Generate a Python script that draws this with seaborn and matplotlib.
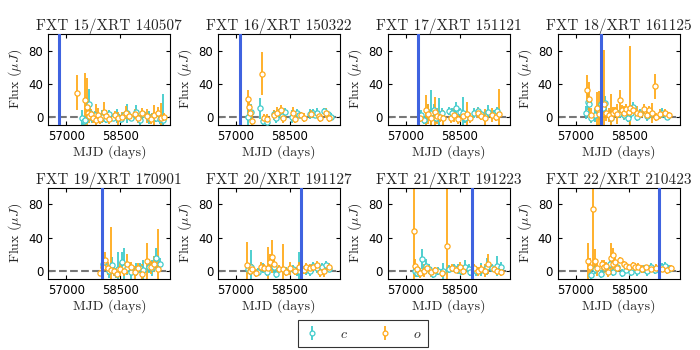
import matplotlib
matplotlib.use('Agg')
import matplotlib.pyplot as plt
import numpy as np
import seaborn as sns

# panel titles and XRT trigger dates (MJD)
titles = ['FXT 15/XRT 140507', 'FXT 16/XRT 150322', 'FXT 17/XRT 151121', 'FXT 18/XRT 161125',
          'FXT 19/XRT 170901', 'FXT 20/XRT 191127', 'FXT 21/XRT 191223', 'FXT 22/XRT 210423']
xrt_mjd = [56784, 57103, 57347, 57717, 57997, 58814, 58840, 59327]

# ATLAS light curves: rows of (MJD, flux uJy, error)
fxt15_c = [(57440, -2, 10), (57480, -5, 6), (57530, -4, 5), (57620, 15, 18), (57660, 5, 8),
           (57720, -1, 6), (57800, 2, 5), (57900, -2, 4), (58000, 0, 8), (58100, -3, 4),
           (58200, 3, 5), (58300, -1, 4), (58420, 1, 8), (58520, -3, 5), (58600, 2, 4),
           (58700, 4, 11), (58800, -1, 4), (58950, 6, 8), (59050, -4, 6), (59150, 3, 4),
           (59300, -1, 8), (59400, 0, 5), (59500, -2, 4), (59600, -3, 6), (59700, -4, 32)]
fxt15_o = [(57290, 29, 21), (57520, 20, 33), (57580, 12, 35), (57600, 5, 10), (57640, 1, 8),
           (57700, 3, 6), (57750, -2, 5), (57820, -4, 20), (57880, 2, 8), (57950, -3, 6),
           (58050, 6, 12), (58120, 1, 7), (58200, -3, 6), (58350, 2, 5), (58450, -2, 8),
           (58550, 0, 6), (58650, 5, 8), (58750, 1, 5), (58900, 3, 6), (59000, -2, 5),
           (59100, 4, 7), (59250, 1, 8), (59350, -3, 6), (59450, 2, 12), (59550, 5, 7),
           (59650, -1, 18), (59720, 0, 5)]

fxt16_c = [(57340, 0, 12), (57420, 6, 10), (57680, 10, 13), (57760, -5, 5), (57850, -6, 6),
           (58050, 3, 5), (58120, -1, 6), (58200, 4, 5), (58280, 1, 4), (58350, 6, 5),
           (58550, 0, 8), (58700, 4, 5), (58750, 2, 4), (59050, 3, 6), (59150, 4, 5),
           (59200, 2, 4), (59250, 5, 5), (59450, 7, 4), (59550, 3, 4), (59650, 0, 5)]
fxt16_o = [(57320, 21, 11), (57350, 12, 10), (57400, 5, 8), (57450, -5, 10), (57720, 52, 26),
           (57780, -2, 5), (57850, -3, 6), (58050, 2, 6), (58150, 5, 7), (58250, 8, 6),
           (58300, -2, 5), (58600, 4, 8), (58650, -3, 5), (58800, 2, 4), (58900, -1, 5),
           (59100, 3, 5), (59300, 1, 6), (59350, -2, 4), (59500, 4, 6), (59600, -1, 5)]

fxt17_c = [(57420, 2, 6), (57500, -4, 5), (57620, 6, 10), (57700, 4, 28), (57780, 8, 8),
           (57850, -2, 5), (57920, 3, 20), (58000, 5, 6), (58200, 7, 5), (58300, 5, 6),
           (58400, 10, 8), (58500, 6, 5), (58600, 4, 20), (58650, -1, 6), (58900, 5, 6),
           (59000, 7, 5), (59100, 3, 4), (59300, 6, 8), (59450, 3, 5), (59550, 7, 5)]
fxt17_o = [(57400, -1, 5), (57560, 8, 18), (57620, 3, 12), (57700, -2, 8), (57800, 6, 18),
           (57880, 1, 10), (57950, 0, 6), (58050, -2, 10), (58250, -1, 6), (58350, 2, 8),
           (58450, -3, 6), (58600, 1, 5), (58700, 3, 15), (58800, -2, 6), (59000, 4, 6),
           (59100, 1, 5), (59200, -1, 10), (59400, 2, 8), (59500, 0, 5), (59600, 3, 30)]

fxt18_c = [(57300, 5, 8), (57340, 18, 10), (57380, 15, 8), (57420, -2, 6), (57550, 2, 8),
           (57640, 6, 10), (57700, 15, 8), (57760, 10, 6), (57830, 17, 8), (57950, 2, 6),
           (58000, -2, 5), (58200, 3, 5), (58350, 2, 6), (58450, -1, 5), (58550, 5, 6),
           (58600, 12, 6), (58700, 0, 5), (58800, 4, 5), (59000, 1, 6), (59100, 4, 5),
           (59400, 5, 6), (59500, 3, 5), (59550, 0, 4)]
fxt18_o = [(57320, 32, 18), (57380, 22, 20), (57440, 2, 8), (57600, 10, 20), (57650, 3, 28),
           (57790, 16, 65), (57860, 5, 10), (57920, 2, 8), (57990, -2, 30), (58050, 5, 7),
           (58100, 7, 5), (58150, 3, 12), (58250, 20, 12), (58300, 8, 6), (58350, 5, 8),
           (58400, 9, 7), (58480, 6, 5), (58530, 10, 75), (58600, 8, 6), (58700, 5, 8),
           (58800, 3, 5), (58900, 9, 6), (59000, 2, 5), (59050, 8, 5), (59120, 5, 12),
           (59200, 37, 15), (59250, 0, 5), (59350, 3, 6), (59500, 4, 5), (59600, 2, 4)]

fxt19_c = [(58010, 8, 8), (58050, 10, 6), (58200, -1, 8), (58280, 7, 10), (58380, -3, 6),
           (58450, 2, 20), (58550, 10, 12), (58600, 5, 22), (58700, 3, 8), (58800, -2, 10),
           (58950, 1, 8), (59050, 3, 6), (59150, 1, 12), (59300, 5, 8), (59400, 3, 10),
           (59500, 15, 12), (59600, 8, 7)]
fxt19_o = [(57950, -3, 4), (58030, 5, 10), (58080, 13, 10), (58150, 3, 8), (58250, 1, 52),
           (58320, -1, 6), (58400, -4, 4), (58500, 2, 8), (58600, 0, 6), (58700, 8, 12),
           (58800, 4, 6), (58900, -2, 8), (59000, 3, 6), (59100, -4, 12), (59250, 12, 22),
           (59350, 4, 8), (59450, 8, 10), (59550, 2, 48)]

fxt20_c = [(57330, 2, 6), (57380, 0, 5), (57430, 5, 20), (57600, -2, 5), (57750, 3, 6),
           (57850, -2, 5), (58050, 5, 8), (58100, -4, 5), (58400, 0, 5), (58600, 2, 5),
           (58700, -1, 6), (58750, 0, 22), (58850, 2, 5), (58950, 1, 6), (59050, -1, 5),
           (59150, 6, 5), (59250, 3, 6), (59400, 4, 5), (59500, 7, 5), (59600, 2, 4)]
fxt20_o = [(57300, 7, 28), (57380, 0, 5), (57450, 2, 6), (57550, -3, 5), (57700, 4, 6),
           (57780, 3, 5), (57880, 3, 25), (57950, 10, 10), (58000, 17, 20), (58050, 8, 8),
           (58200, 2, 5), (58300, 2, 30), (58400, -2, 5), (58500, 3, 8), (58650, 0, 5),
           (58750, 4, 6), (58900, 1, 5), (58950, 5, 4), (59050, 3, 5), (59150, 4, 4),
           (59250, 7, 5), (59350, -2, 6), (59450, -1, 7), (59600, 4, 5)]

fxt21_c = [(57260, 0, 8), (57320, -3, 5), (57380, -2, 6), (57450, 14, 12), (57550, 6, 8),
           (57650, 2, 6), (57750, -4, 5), (57900, 0, 5), (58050, -1, 10), (58200, 2, 5),
           (58350, 3, 5), (58450, 2, 6), (58550, -1, 4), (58650, 5, 8), (58750, 2, 6),
           (58800, -2, 5), (58950, 0, 6), (59100, 1, 8), (59250, 5, 10), (59400, 3, 5),
           (59550, 6, 12), (59650, 5, 6)]
fxt21_o = [(57220, 48, 60), (57250, 6, 8), (57300, 2, 5), (57400, -3, 6), (57500, 0, 8),
           (57600, 3, 5), (57700, -2, 6), (57800, 1, 4), (58000, -3, 5), (58140, 30, 85),
           (58300, 3, 5), (58400, 1, 4), (58500, 4, 6), (58600, 0, 5), (58900, 3, 5),
           (59000, -1, 6), (59100, 2, 5), (59200, 0, 8), (59300, 8, 12), (59450, 2, 4),
           (59550, 0, 5), (59650, -2, 4)]

fxt22_c = [(57430, -5, 8), (57550, 2, 6), (57700, -4, 5), (57800, 3, 5), (57950, 8, 6),
           (58050, -2, 5), (58150, 4, 6), (58300, -3, 5), (58400, 1, 4), (58550, -2, 5),
           (58700, 0, 6), (58900, 2, 5), (59000, -1, 6), (59100, 4, 5), (59200, 1, 5),
           (59400, 4, 5), (59500, 6, 4), (59600, 2, 5)]
fxt22_o = [(57360, 12, 22), (57400, 5, 10), (57490, 75, 70), (57530, 12, 14), (57600, 3, 10),
           (57750, 8, 5), (57800, 5, 8), (57850, 6, 4), (57900, -2, 6), (57980, 15, 18),
           (58030, 8, 12), (58050, 19, 8), (58100, 10, 6), (58150, 3, 5), (58250, 13, 3),
           (58350, 8, 4), (58400, 6, 5), (58500, 4, 3), (58600, 7, 4), (58650, 4, 5),
           (58750, 5, 4), (58850, 2, 5), (58950, 4, 3), (59100, 2, 4), (59250, 3, 5),
           (59400, 2, 4), (59550, 1, 5), (59650, 3, 4)]

c_curves = [fxt15_c, fxt16_c, fxt17_c, fxt18_c, fxt19_c, fxt20_c, fxt21_c, fxt22_c]
o_curves = [fxt15_o, fxt16_o, fxt17_o, fxt18_o, fxt19_o, fxt20_o, fxt21_o, fxt22_o]

c_color = '#40cccc'
o_color = '#ffaa1a'
xrt_color = '#3f63e0'

sns.set_style('ticks', {'xtick.direction': 'in', 'ytick.direction': 'in',
                        'xtick.top': True, 'ytick.right': True,
                        'axes.edgecolor': 'black', 'xtick.color': 'black',
                        'ytick.color': 'black'})
plt.rcParams['mathtext.fontset'] = 'cm'
serif = 'cmr10'

fig, axes = plt.subplots(2, 4, figsize=(7, 3.5), dpi=100)
fig.subplots_adjust(left=0.069, right=0.971, top=0.903, bottom=0.203, wspace=0.39, hspace=0.69)


def draw_band(ax, rows, color):
    data = np.array(rows, dtype=float)
    ax.errorbar(data[:, 0], data[:, 1], yerr=data[:, 2], fmt='none', ecolor=color,
                elinewidth=1.3, zorder=2)
    sns.scatterplot(x=data[:, 0], y=data[:, 1], ax=ax, marker='o', s=14, color='white',
                    edgecolor=color, linewidth=0.9, zorder=3, legend=False)


for i, ax in enumerate(axes.flat):
    draw_band(ax, c_curves[i], c_color)
    draw_band(ax, o_curves[i], o_color)
    ax.axvline(xrt_mjd[i], color=xrt_color, lw=2.2, zorder=4)
    ax.axhline(0, color='#777777', ls='--', lw=1.5, zorder=1)
    ax.set_xlim(56500, 59900)
    ax.set_ylim(-10, 100)
    ax.set_xticks([57000, 58500])
    ax.set_yticks([0, 40, 80])
    ax.tick_params(labelsize=8.5, length=3, width=0.8)
    for s in ax.spines.values():
        s.set_linewidth(0.8)
    ax.set_title(titles[i], fontfamily=serif, fontsize=11, pad=3)
    ax.set_xlabel('MJD (days)', fontfamily=serif, fontsize=10, labelpad=2)
    ax.set_ylabel(r'Flux ($\mu J$)', fontfamily=serif, fontsize=10, labelpad=3)

# legend proxies
h_c = axes[0, 0].errorbar([np.nan], [np.nan], yerr=[1], fmt='o', color=c_color, mfc='white',
                          ms=3.5, mew=0.9, elinewidth=1.3)
h_o = axes[0, 0].errorbar([np.nan], [np.nan], yerr=[1], fmt='o', color=o_color, mfc='white',
                          ms=3.5, mew=0.9, elinewidth=1.3)
leg = fig.legend([h_c, h_o], ['$c$', '$o$'], loc='center', bbox_to_anchor=(0.519, 0.047),
                 ncol=2, fontsize=10, frameon=True, fancybox=False, columnspacing=2.2,
                 handlelength=1.0, handletextpad=1.5, borderpad=0.5)
leg.get_frame().set_edgecolor('black')
leg.get_frame().set_linewidth(0.8)

fig.savefig('out.png', dpi=100)
